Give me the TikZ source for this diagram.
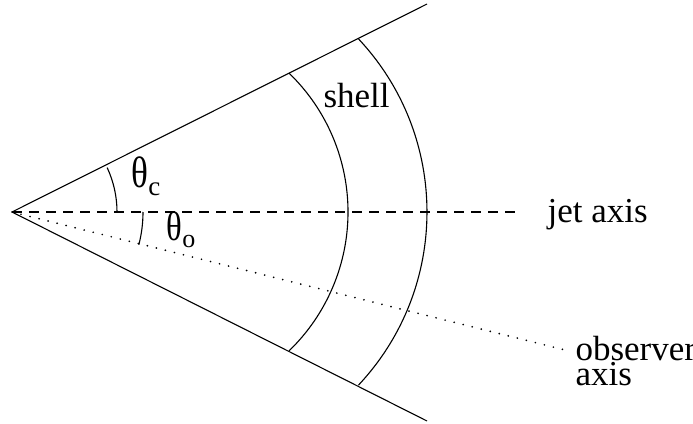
\documentclass[tikz,border=0pt]{standalone}
\usepackage{fontspec}
\setmainfont{Liberation Serif}
\begin{document}
\begin{tikzpicture}[x=1pt,y=-1pt,line width=1.1pt,
	lbl/.style={inner sep=0pt,anchor=base west,align=left,
		font=\fontsize{35}{25}\selectfont}]
	\useasboundingbox (0,0) rectangle (693,423);
	% Đỉnh nón, các đầu mút và tâm các cung
	\coordinate (O) at (12,212);
	\coordinate (U) at (427,4);
	\coordinate (L) at (427,421);
	\coordinate (J) at (521,212);
	\coordinate (B) at (565,350);
	\coordinate (C1) at (155,212);
	\coordinate (C2) at (174,212);
	% Hai cạnh nón, trục jet, trục quan sát
	\draw (O) -- (U);
	\draw (O) -- (L);
	\draw[dash pattern=on 10pt off 7pt] (O) -- (J);
	\draw[line width=1.9pt,line cap=round,dash pattern=on 0pt off 9.3pt] (O) -- (B);
	% Vỏ
	\draw ([shift={(46:193pt)}]C1) arc[start angle=46,end angle=-46,radius=193pt];
	\draw ([shift={(43.2:253pt)}]C2) arc[start angle=43.2,end angle=-43.2,radius=253pt];
	% Các góc
	\draw ([shift={(0:105pt)}]O) arc[start angle=0,end angle=25,radius=105pt];
	\draw ([shift={(0:131pt)}]O) arc[start angle=0,end angle=-14.5,radius=131pt];
	\node[lbl,font=\fontsize{44}{25}\selectfont] (thc) at (131,187)
		{\scalebox{0.8}[1]{θ}\raisebox{-8pt}{\fontsize{27}{27}\selectfont c}};
	\node[lbl,font=\fontsize{41}{25}\selectfont] (tho) at (166,240)
		{\scalebox{0.8}[1]{θ}\raisebox{-7pt}{\fontsize{26}{26}\selectfont o}};
	\node[lbl] (shell) at (323,107) {shell};
	\node[lbl] (jet) at (547,222) {jet axis};
	\node[lbl] (obs) at (575,385) {observer\\axis};
\end{tikzpicture}
\end{document}
